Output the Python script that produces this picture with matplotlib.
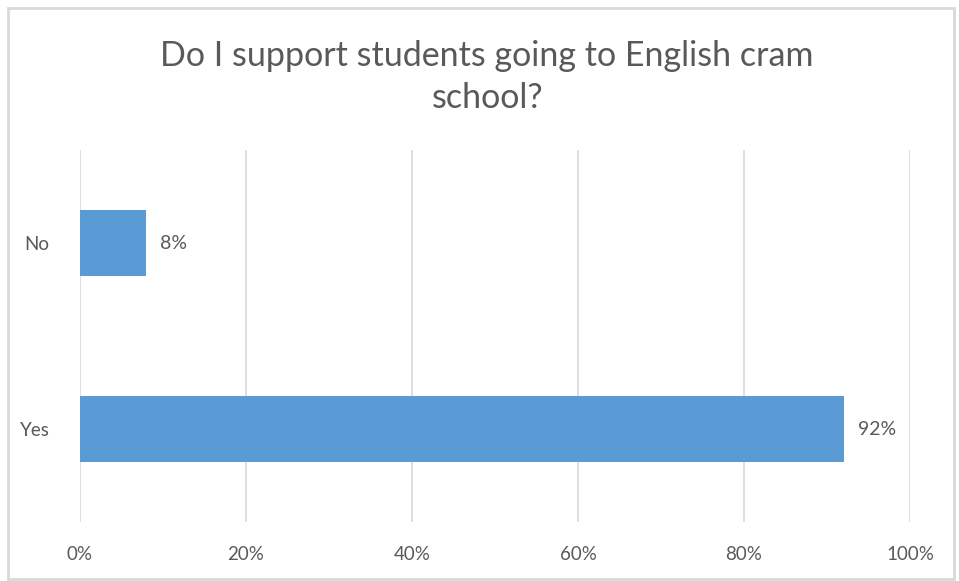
import matplotlib.pyplot as plt
from matplotlib.patches import Rectangle

categories = ["Yes", "No"]
shares = [92, 8]
ticks = [0, 20, 40, 60, 80, 100]
title = "Do I support students going to English cram\nschool?"

grey = "#595959"
bar_color = "#5b9bd5"

plt.rcParams['font.family'] = ['Lato', 'DejaVu Sans']

fig = plt.figure(figsize=(9.59, 5.81), dpi=100)
ax = fig.add_axes([0.0834, 0.1015, 0.8655, 0.6403])

# chart frame
fig.patches.append(Rectangle((0.0085, 0.003), 0.986, 0.984, transform=fig.transFigure,
                             fill=False, edgecolor="#d9d9d9", linewidth=2))

ax.barh(range(len(categories)), shares, height=0.35, color=bar_color, zorder=3)
for i, v in enumerate(shares):
    ax.text(v + 1.7, i, f"{v}%", va="center", ha="left", fontsize=14, color=grey)

ax.set_xlim(0, 100)
ax.set_ylim(-0.5, 1.5)
ax.set_xticks(ticks)
ax.set_xticklabels([f"{t}%" for t in ticks])
ax.set_yticks(range(len(categories)))
ax.set_yticklabels(categories)
ax.tick_params(axis="both", length=0, labelsize=13.5, labelcolor=grey)
ax.tick_params(axis="x", pad=17)
ax.tick_params(axis="y", pad=22)
ax.grid(axis="x", color="#d9d9d9", linewidth=1.2, zorder=0)
for s in ax.spines.values():
    s.set_visible(False)

fig.text(0.508, 0.932, title, ha="center", va="top", fontsize=24.5, color=grey,
         linespacing=1.4)

fig.savefig("out.png", dpi=100)
